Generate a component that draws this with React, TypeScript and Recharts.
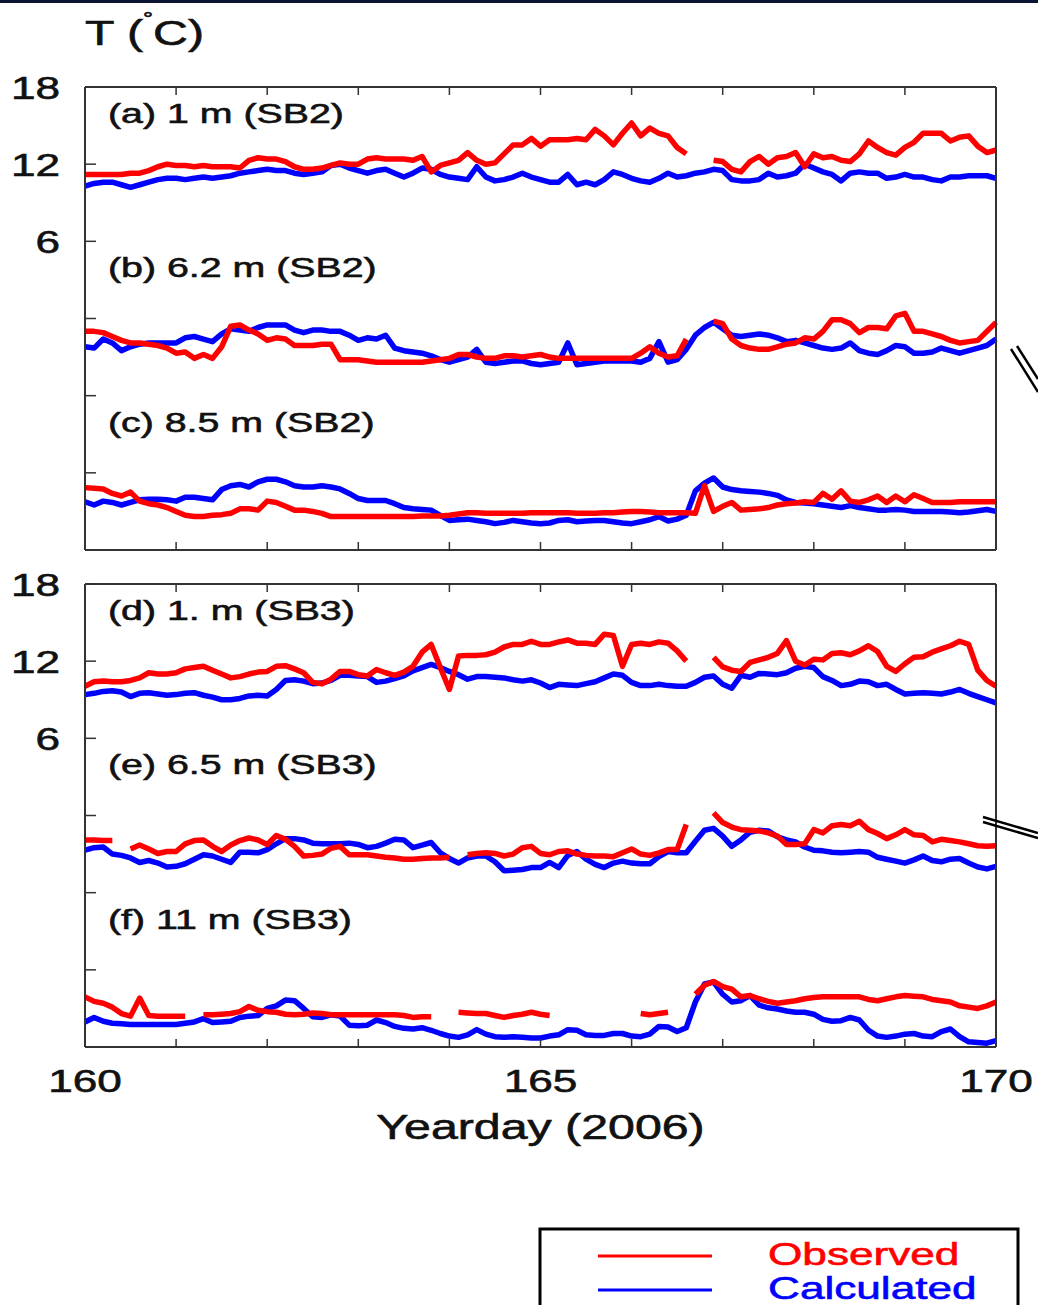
import { useMemo } from "react"
import { LineChart, Line, XAxis, YAxis } from "recharts"

// Water temperature (°C) sampled every 0.1 day, yearday 160 to 170 (101 samples).
// null = no observation (logger gap).
const DAY_START = 160
const DAY_STEP = 0.1
const DAY_COUNT = 101

const obsA = [
  11.2, 11.2, 11.2, 11.2, 11.2, 11.3, 11.3, 11.5, 11.8, 12.0,
  11.9, 11.9, 11.8, 11.9, 11.8, 11.8, 11.8, 11.7, 12.3, 12.5,
  12.4, 12.4, 12.2, 11.8, 11.6, 11.6, 11.7, 11.9, 12.1, 12.0,
  12.0, 12.4, 12.5, 12.4, 12.4, 12.4, 12.3, 12.6, 11.4, 11.9,
  12.1, 12.3, 12.9, 12.3, 12.0, 12.1, 12.8, 13.5, 13.5, 14.0,
  13.4, 13.9, 13.9, 13.9, 14.0, 13.9, 14.7, 14.2, 13.5, 14.4,
  15.2, 14.2, 14.8, 14.4, 14.2, 13.3, 12.8, null, null, 12.3,
  12.2, 11.6, 11.4, 12.2, 12.6, 12.0, 12.5, 12.6, 12.9, 11.8,
  12.8, 12.5, 12.6, 12.3, 12.2, 12.8, 13.8, 13.3, 12.9, 12.7,
  13.3, 13.7, 14.4, 14.4, 14.4, 13.8, 14.1, 14.2, 13.4, 12.9,
  13.1,
]
const calcA = [
  10.3, 10.5, 10.6, 10.6, 10.4, 10.2, 10.4, 10.6, 10.8, 10.9,
  10.9, 10.8, 10.9, 11.0, 10.9, 11.0, 11.1, 11.3, 11.4, 11.5,
  11.6, 11.5, 11.5, 11.3, 11.2, 11.3, 11.4, 11.9, 12.0, 11.7,
  11.5, 11.3, 11.5, 11.6, 11.3, 11.0, 11.3, 11.7, 11.6, 11.2,
  11.0, 10.9, 10.8, 11.8, 11.0, 10.7, 10.8, 11.0, 11.3, 11.0,
  10.8, 10.6, 10.6, 11.2, 10.4, 10.6, 10.4, 10.8, 11.4, 11.2,
  10.9, 10.7, 10.6, 10.9, 11.3, 11.0, 11.1, 11.3, 11.4, 11.6,
  11.5, 10.8, 10.7, 10.7, 10.8, 11.3, 11.0, 11.1, 11.3, 12.0,
  11.7, 11.4, 11.2, 10.7, 11.3, 11.4, 11.3, 11.3, 10.9, 11.0,
  11.2, 11.0, 11.0, 10.8, 10.7, 11.0, 11.0, 11.1, 11.1, 11.1,
  10.9,
]
const obsB = [
  11.0, 11.0, 10.9, 10.6, 10.3, 10.1, 10.1, 10.0, 9.9, 9.7,
  9.3, 9.4, 8.9, 9.2, 8.9, 9.8, 11.4, 11.5, 11.1, 10.8,
  10.3, 10.5, 10.4, 9.9, 9.9, 9.9, 10.0, 10.0, 8.8, 8.8,
  8.8, 8.7, 8.6, 8.6, 8.6, 8.6, 8.6, 8.6, 8.7, 8.8,
  8.9, 9.2, 9.2, 9.0, 8.9, 8.9, 9.1, 9.1, 9.0, 9.1,
  9.2, 9.0, 8.9, 8.9, 8.9, 8.9, 8.9, 8.9, 8.9, 8.9,
  8.9, 9.3, 9.8, 9.3, 9.0, 9.1, 10.4, null, null, 11.8,
  11.6, 10.4, 9.9, 9.7, 9.6, 9.6, 9.8, 10.0, 10.1, 10.5,
  10.4, 11.0, 11.9, 11.9, 11.6, 10.9, 11.3, 11.3, 11.2, 12.2,
  12.4, 11.0, 11.0, 10.8, 10.6, 10.3, 10.1, 10.2, 10.3, 11.0,
  11.7,
]
const calcB = [
  9.8, 9.7, 10.4, 10.1, 9.5, 9.8, 10.0, 10.1, 10.1, 10.1,
  10.1, 10.5, 10.6, 10.4, 10.2, 10.8, 11.2, 11.1, 11.0, 11.3,
  11.5, 11.5, 11.5, 11.1, 10.9, 11.1, 11.1, 11.0, 11.0, 10.7,
  10.3, 10.5, 10.4, 10.7, 9.7, 9.5, 9.4, 9.3, 9.1, 8.8,
  8.6, 8.8, 9.0, 9.6, 8.6, 8.5, 8.6, 8.7, 8.7, 8.5,
  8.4, 8.5, 8.6, 10.1, 8.4, 8.5, 8.6, 8.7, 8.7, 8.7,
  8.7, 8.6, 8.9, 10.2, 8.6, 8.8, 9.6, 10.7, 11.3, 11.7,
  11.2, 10.7, 10.6, 10.7, 10.8, 10.7, 10.5, 10.2, 10.3, 10.1,
  9.9, 9.7, 9.6, 9.7, 10.1, 9.5, 9.3, 9.2, 9.5, 9.9,
  9.8, 9.3, 9.3, 9.4, 9.7, 9.5, 9.3, 9.5, 9.7, 9.9,
  10.4,
]
const obsC = [
  10.85, 10.8, 10.75, 10.4, 10.2, 10.5, 9.8, 9.6, 9.5, 9.3,
  9.0, 8.7, 8.6, 8.6, 8.7, 8.75, 8.85, 9.2, 9.2, 9.1,
  9.8, 9.7, 9.4, 9.1, 9.1, 9.0, 8.85, 8.6, 8.6, 8.6,
  8.6, 8.6, 8.6, 8.6, 8.6, 8.6, 8.6, 8.65, 8.65, 8.65,
  8.7, 8.8, 8.9, 8.9, 8.85, 8.85, 8.85, 8.85, 8.85, 8.9,
  8.9, 8.9, 8.9, 8.9, 8.85, 8.85, 8.85, 8.9, 8.9, 8.95,
  9.0, 9.0, 8.95, 8.9, 8.9, 8.9, 8.9, 8.85, 11.0, 9.0,
  9.4, 9.7, 9.1, 9.15, 9.2, 9.3, 9.5, 9.6, 9.65, 9.75,
  9.7, 10.4, 9.95, 10.6, 9.8, 9.7, 9.9, 10.2, 9.7, 10.2,
  9.75, 10.3, 10.0, 9.7, 9.7, 9.7, 9.75, 9.75, 9.75, 9.75,
  9.75,
]
const calcC = [
  9.75, 9.5, 9.8, 9.7, 9.5, 9.7, 9.9, 9.95, 9.95, 9.9,
  9.8, 10.1, 10.1, 10.0, 9.9, 10.7, 11.0, 11.1, 10.9, 11.3,
  11.5, 11.5, 11.3, 11.0, 10.9, 10.9, 11.0, 10.9, 10.75, 10.4,
  10.0, 9.85, 9.85, 9.85, 9.6, 9.3, 9.2, 9.15, 9.1, 8.7,
  8.3, 8.35, 8.4, 8.3, 8.2, 8.05, 8.15, 8.3, 8.2, 8.1,
  8.05, 8.1, 8.3, 8.35, 8.2, 8.25, 8.3, 8.3, 8.2, 8.1,
  8.05, 8.2, 8.35, 8.6, 8.25, 8.4, 8.7, 10.6, 11.2, 11.6,
  10.9, 10.7, 10.6, 10.55, 10.5, 10.4, 10.25, 9.9, 9.7, 9.65,
  9.6, 9.5, 9.4, 9.3, 9.45, 9.3, 9.2, 9.1, 9.1, 9.15,
  9.1, 9.0, 9.0, 9.0, 9.0, 8.95, 8.9, 8.95, 9.05, 9.15,
  9.0,
]
const obsD = [
  10.05, 10.4, 10.45, 10.4, 10.4, 10.5, 10.7, 11.1, 11.0, 11.0,
  11.1, 11.4, 11.5, 11.6, 11.3, 11.0, 10.7, 10.8, 11.0, 11.15,
  11.2, 11.6, 11.65, 11.4, 11.1, 10.35, 10.25, 10.6, 11.2, 11.2,
  10.95, 10.85, 11.35, 11.1, 10.9, 11.15, 11.6, 12.7, 13.3, 11.5,
  9.8, 12.4, 12.45, 12.45, 12.5, 12.7, 13.1, 13.3, 13.3, 13.55,
  13.3, 13.3, 13.5, 13.65, 13.4, 13.4, 13.3, 14.1, 14.0, 11.6,
  13.3, 13.4, 13.3, 13.5, 13.4, 12.8, 12.0, null, null, 12.3,
  11.55, 11.3, 11.2, 11.9, 12.1, 12.3, 12.6, 13.6, 12.0, 11.7,
  12.15, 12.1, 12.6, 12.65, 12.5, 12.8, 13.2, 12.75, 11.6, 11.2,
  11.8, 12.3, 12.35, 12.7, 12.95, 13.2, 13.55, 13.3, 11.3, 10.5,
  10.05,
]
const calcD = [
  9.4, 9.5, 9.65, 9.7, 9.6, 9.25, 9.5, 9.55, 9.45, 9.35,
  9.4, 9.5, 9.55, 9.35, 9.2, 9.0, 9.0, 9.1, 9.3, 9.35,
  9.3, 9.8, 10.5, 10.55, 10.45, 10.25, 10.3, 10.5, 10.9, 10.9,
  10.85, 10.8, 10.35, 10.45, 10.65, 10.85, 11.25, 11.5, 11.75, 11.5,
  11.2, 10.95, 10.6, 10.8, 10.8, 10.75, 10.7, 10.55, 10.45, 10.55,
  10.3, 9.95, 10.2, 10.15, 10.1, 10.25, 10.4, 10.7, 11.0, 10.9,
  10.35, 10.1, 10.1, 10.2, 10.1, 10.05, 10.05, 10.35, 10.75, 10.85,
  10.2, 9.9, 10.9, 10.75, 11.05, 11.0, 10.95, 11.1, 11.45, 11.6,
  11.5, 10.8, 10.5, 10.1, 10.2, 10.45, 10.4, 10.1, 10.2, 9.8,
  9.45, 9.5, 9.55, 9.5, 9.45, 9.6, 9.8, 9.5, 9.25, 9.0,
  8.75,
]
const obsE = [
  10.1, 10.1, 10.05, 10.05, null, 9.4, 9.7, 9.4, 9.05, 9.2,
  9.2, 9.8, 10.05, 10.1, 9.6, 9.2, 9.7, 10.05, 10.25, 10.1,
  9.75, 10.45, 10.15, 9.6, 8.85, 8.9, 9.0, 9.45, 9.6, 8.95,
  8.95, 8.95, 8.85, 8.75, 8.7, 8.6, 8.6, 8.65, 8.7, 8.7,
  8.75, null, 8.95, 9.05, 9.1, 9.05, 8.85, 9.0, 9.5, 9.6,
  9.05, 8.95, 9.2, 9.25, 9.0, 8.9, 8.85, 8.85, 8.8, 9.1,
  9.4, 9.0, 8.9, 9.1, 9.35, 9.35, 11.3, null, null, 12.2,
  11.45, 11.1, 10.9, 10.85, 10.8, 10.65, 10.4, 9.75, 9.75, 9.8,
  10.9, 10.65, 11.2, 11.3, 11.2, 11.55, 10.9, 10.6, 10.2, 10.5,
  10.9, 10.5, 10.45, 9.95, 10.15, 10.05, 9.95, 9.8, 9.65, 9.6,
  9.65,
]
const calcE = [
  9.3, 9.5, 9.55, 9.0, 8.9, 8.7, 8.35, 8.5, 8.3, 8.0,
  8.05, 8.25, 8.6, 8.95, 8.85, 8.6, 8.35, 9.15, 9.15, 9.1,
  9.35, 9.8, 10.2, 10.2, 10.1, 9.85, 9.8, 9.8, 9.8, 9.85,
  9.75, 9.5, 9.6, 9.85, 10.15, 10.1, 9.5, 9.7, 9.9, 9.1,
  8.65, 8.3, 8.7, 8.85, 8.85, 8.4, 7.7, 7.75, 7.8, 7.95,
  7.95, 8.35, 7.95, 8.9, 9.2, 8.6, 8.2, 7.95, 8.3, 8.45,
  8.3, 8.25, 8.25, 8.8, 9.2, 9.1, 9.1, 10.0, 10.85, 11.0,
  10.4, 9.6, 10.1, 10.7, 10.85, 10.8, 10.35, 10.1, 9.95, 9.55,
  9.3, 9.25, 9.15, 9.1, 9.15, 9.2, 9.15, 8.75, 8.6, 8.45,
  8.3, 8.55, 8.85, 8.5, 8.4, 8.6, 8.65, 8.3, 8.0, 7.85,
  8.05,
]
const obsF = [
  9.9, 9.55, 9.4, 9.1, 8.6, 8.4, 9.8, 8.45, 8.4, 8.4,
  8.4, 8.4, null, 8.5, 8.5, 8.55, 8.6, 8.75, 9.15, 8.85,
  8.75, 8.7, 8.55, 8.5, 8.55, 8.65, 8.6, 8.5, 8.5, 8.5,
  8.5, 8.5, 8.5, 8.5, 8.5, 8.45, 8.3, 8.35, 8.35, null,
  null, 8.7, 8.65, 8.6, 8.6, 8.45, 8.3, 8.45, 8.55, 8.7,
  8.55, 8.45, null, null, null, null, null, null, null, null,
  null, 8.6, 8.5, 8.6, 8.7, null, null, 10.1, 10.8, 11.1,
  10.7, 10.5, 9.9, 10.0, 9.75, 9.55, 9.4, 9.5, 9.6, 9.75,
  9.85, 9.9, 9.9, 9.9, 9.9, 9.9, 9.7, 9.6, 9.75, 9.9,
  10.0, 9.95, 9.9, 9.7, 9.6, 9.5, 9.2, 9.1, 9.0, 9.2,
  9.5,
]
const calcF = [
  7.95, 8.3, 8.0, 7.85, 7.8, 7.75, 7.75, 7.75, 7.75, 7.75,
  7.75, 7.85, 7.95, 8.2, 7.9, 7.95, 8.0, 8.3, 8.4, 8.45,
  9.0, 9.2, 9.65, 9.6, 9.0, 8.35, 8.3, 8.5, 8.4, 7.7,
  7.65, 7.7, 8.1, 7.9, 7.6, 7.45, 7.4, 7.5, 7.3, 7.05,
  6.85, 6.75, 6.95, 7.35, 7.0, 6.8, 6.75, 6.8, 6.75, 6.7,
  6.7, 6.85, 6.95, 7.35, 7.3, 6.95, 6.9, 6.9, 7.05, 7.05,
  6.85, 6.8, 7.0, 7.6, 7.55, 7.2, 7.5, 9.5, 10.9, 11.05,
  10.1, 9.5, 9.6, 10.0, 9.25, 9.05, 8.95, 8.8, 8.7, 8.7,
  8.55, 8.15, 8.0, 8.05, 8.3, 8.1, 7.3, 6.85, 6.75, 6.85,
  7.0, 7.05, 6.85, 6.8, 7.2, 7.4, 6.8, 6.4, 6.35, 6.3,
  6.5,
]

type Series = (number | null)[]
interface Panel {
  id: string
  label: string
  obs: Series
  calc: Series
  shift: number // vertical offset (°C) used to stack the depths
}

const SB2_PANELS: Panel[] = [
  { id: "a", label: "(a) 1 m (SB2)", obs: obsA, calc: calcA, shift: 0 },
  { id: "b", label: "(b) 6.2 m (SB2)", obs: obsB, calc: calcB, shift: -12 },
  { id: "c", label: "(c) 8.5 m (SB2)", obs: obsC, calc: calcC, shift: -24 },
]
const SB3_PANELS: Panel[] = [
  { id: "d", label: "(d) 1. m (SB3)", obs: obsD, calc: calcD, shift: 0 },
  { id: "e", label: "(e) 6.5 m (SB3)", obs: obsE, calc: calcE, shift: -12 },
  { id: "f", label: "(f) 11 m (SB3)", obs: obsF, calc: calcF, shift: -24 },
]

const Y_DOMAIN = [-18, 18]
const Y_TICKS = [-18, -12, -6, 0, 6, 12, 18]
const Y_LABELLED = [6, 12, 18]
const X_DOMAIN = [160, 170]
const X_TICKS = [160, 161, 162, 163, 164, 165, 166, 167, 168, 169, 170]
const X_LABELLED = [160, 165, 170]

const LEGEND = [
  { name: "Observed", color: "#ff0000" },
  { name: "Calculated", color: "#0000ff" },
]
const OBS_COLOR = LEGEND[0].color
const CALC_COLOR = LEGEND[1].color

// page layout
const PAGE_W = 1038
const PAGE_H = 1305
const PLOT_LEFT = 85
const PLOT_RIGHT = 996
const PLOT_H = 463
const AXIS_SIZE = 1 // recharts skips axes of size 0
const AXIS = "#333"
const INK = "#111"
const FONT = "'Liberation Sans', Arial, Helvetica, sans-serif"
const STRETCH = 1.38 // the original lettering is wide

function buildRows(panels: Panel[]) {
  const rows: Record<string, number | null>[] = []
  for (let i = 0; i < DAY_COUNT; i++) {
    const row: Record<string, number | null> = {
      day: Math.round((DAY_START + i * DAY_STEP) * 10) / 10,
    }
    panels.forEach((p) => {
      const o = p.obs[i]
      const c = p.calc[i]
      row[p.id + "Obs"] = o == null ? null : o + p.shift
      row[p.id + "Calc"] = c == null ? null : c + p.shift
    })
    rows.push(row)
  }
  return rows
}

function WideText({
  x,
  y,
  size,
  anchor = "start",
  fill = INK,
  children,
}: {
  x: number
  y: number
  size: number
  anchor?: "start" | "middle" | "end"
  fill?: string
  children: React.ReactNode
}) {
  return (
    <text
      transform={`translate(${x},${y}) scale(${STRETCH},1)`}
      textAnchor={anchor}
      fontSize={size}
      fontFamily={FONT}
      fill={fill}
      stroke={fill}
      strokeWidth={0.6}
    >
      {children}
    </text>
  )
}

// ticks point into the plot, like the original
const leftTick = (p: any) => (
  <g>
    <line x1={p.x} x2={p.x + 11} y1={p.y} y2={p.y} stroke={AXIS} strokeWidth={1.5} />
    {Y_LABELLED.includes(p.payload.value) && (
      <WideText x={p.x - 25} y={p.y + 12} size={32} anchor="end">
        {p.payload.value}
      </WideText>
    )}
  </g>
)
const rightTick = (p: any) => (
  <line x1={p.x} x2={p.x - 11} y1={p.y} y2={p.y} stroke={AXIS} strokeWidth={1.5} />
)
const topTick = (p: any) => (
  <line x1={p.x} x2={p.x} y1={p.y} y2={p.y + 8} stroke={AXIS} strokeWidth={1.5} />
)
const makeBottomTick = (labels: boolean) => (p: any) => (
  <g>
    <line x1={p.x} x2={p.x} y1={p.y} y2={p.y - 8} stroke={AXIS} strokeWidth={1.5} />
    {labels && X_LABELLED.includes(p.payload.value) && (
      <WideText x={p.x} y={p.y + 45} size={32} anchor="middle">
        {p.payload.value}
      </WideText>
    )}
  </g>
)

function StackedChart({
  panels,
  top,
  height,
  plotTop,
  xLabels,
}: {
  panels: Panel[]
  top: number
  height: number
  plotTop: number
  xLabels: boolean
}) {
  const rows = useMemo(() => buildRows(panels), [panels])
  const axisLine = { stroke: AXIS, strokeWidth: 2 }
  const common = {
    interval: 0 as const,
    tickSize: 0,
    tickMargin: 0,
    tickLine: false,
    axisLine,
  }
  return (
    <div style={{ position: "absolute", left: 0, top }}>
      <LineChart
        width={PAGE_W}
        height={height}
        data={rows}
        margin={{
          top: plotTop - top - AXIS_SIZE,
          right: PAGE_W - PLOT_RIGHT - AXIS_SIZE,
          bottom: height - (plotTop - top) - PLOT_H - AXIS_SIZE,
          left: PLOT_LEFT - AXIS_SIZE,
        }}
        style={{ overflow: "visible" }}
      >
        <XAxis
          dataKey="day"
          type="number"
          domain={X_DOMAIN}
          ticks={X_TICKS}
          height={AXIS_SIZE}
          tick={makeBottomTick(xLabels)}
          {...common}
        />
        <XAxis
          xAxisId="top"
          orientation="top"
          dataKey="day"
          type="number"
          domain={X_DOMAIN}
          ticks={X_TICKS}
          height={AXIS_SIZE}
          tick={topTick}
          {...common}
        />
        <YAxis
          type="number"
          domain={Y_DOMAIN}
          ticks={Y_TICKS}
          width={AXIS_SIZE}
          tick={leftTick}
          {...common}
        />
        <YAxis
          yAxisId="right"
          orientation="right"
          type="number"
          domain={Y_DOMAIN}
          ticks={Y_TICKS}
          width={AXIS_SIZE}
          tick={rightTick}
          {...common}
        />
        {panels.map((p) => (
          <Line
            key={p.id + "Calc"}
            dataKey={p.id + "Calc"}
            type="linear"
            stroke={CALC_COLOR}
            strokeWidth={5.5}
            strokeLinejoin="round"
            dot={false}
            activeDot={false}
            isAnimationActive={false}
          />
        ))}
        {panels.map((p) => (
          <Line
            key={p.id + "Obs"}
            dataKey={p.id + "Obs"}
            type="linear"
            stroke={OBS_COLOR}
            strokeWidth={5.5}
            strokeLinejoin="round"
            dot={false}
            activeDot={false}
            isAnimationActive={false}
          />
        ))}
      </LineChart>
    </div>
  )
}

const TOP_PLOT = 87
const BOTTOM_PLOT = 584

export default function App() {
  const bandH = PLOT_H / 3
  return (
    <div
      style={{
        position: "absolute",
        left: 0,
        top: 0,
        width: PAGE_W,
        height: PAGE_H,
        overflow: "hidden",
        background: "#fff",
      }}
    >
      <StackedChart panels={SB2_PANELS} top={0} height={570} plotTop={TOP_PLOT} xLabels={false} />
      <StackedChart panels={SB3_PANELS} top={500} height={660} plotTop={BOTTOM_PLOT} xLabels />

      <svg
        width={PAGE_W}
        height={PAGE_H}
        style={{ position: "absolute", left: 0, top: 0, pointerEvents: "none" }}
      >
        <rect x={0} y={0} width={PAGE_W} height={3} fill="#0b1533" />

        <text
          transform={`translate(85,45) scale(${STRETCH},1)`}
          fontSize={35}
          fontFamily={FONT}
          fill={INK}
          stroke={INK}
          strokeWidth={0.6}
        >
          T (
          <tspan fontSize={18} dy={-20}>
            °
          </tspan>
          <tspan dy={20}>C)</tspan>
        </text>

        {[
          { panels: SB2_PANELS, plotTop: TOP_PLOT },
          { panels: SB3_PANELS, plotTop: BOTTOM_PLOT },
        ].map((g) =>
          g.panels.map((p, i) => (
            <WideText key={p.id} x={PLOT_LEFT + 23} y={g.plotTop + 36 + i * bandH} size={28.5}>
              {p.label}
            </WideText>
          ))
        )}

        <WideText x={(PLOT_LEFT + PLOT_RIGHT) / 2} y={1139} size={35} anchor="middle">
          Yearday (2006)
        </WideText>

        {/* axis-break marks on the right edge */}
        <g stroke="#000" strokeWidth={2.5}>
          <line x1={1011} y1={349} x2={1038} y2={392} />
          <line x1={1017} y1={346} x2={1038} y2={379} />
          <line x1={983} y1={817} x2={1038} y2={833} />
          <line x1={983} y1={822} x2={1038} y2={838} />
        </g>

        {/* legend */}
        <rect x={540} y={1229} width={478} height={100} fill="#fff" stroke="#000" strokeWidth={3} />
        {LEGEND.map((item, i) => (
          <g key={item.name}>
            <line
              x1={598}
              x2={712}
              y1={1256 + i * 34}
              y2={1256 + i * 34}
              stroke={item.color}
              strokeWidth={3}
            />
            <WideText x={768} y={1265 + i * 34} size={32} fill={item.color}>
              {item.name}
            </WideText>
          </g>
        ))}
      </svg>
    </div>
  )
}
